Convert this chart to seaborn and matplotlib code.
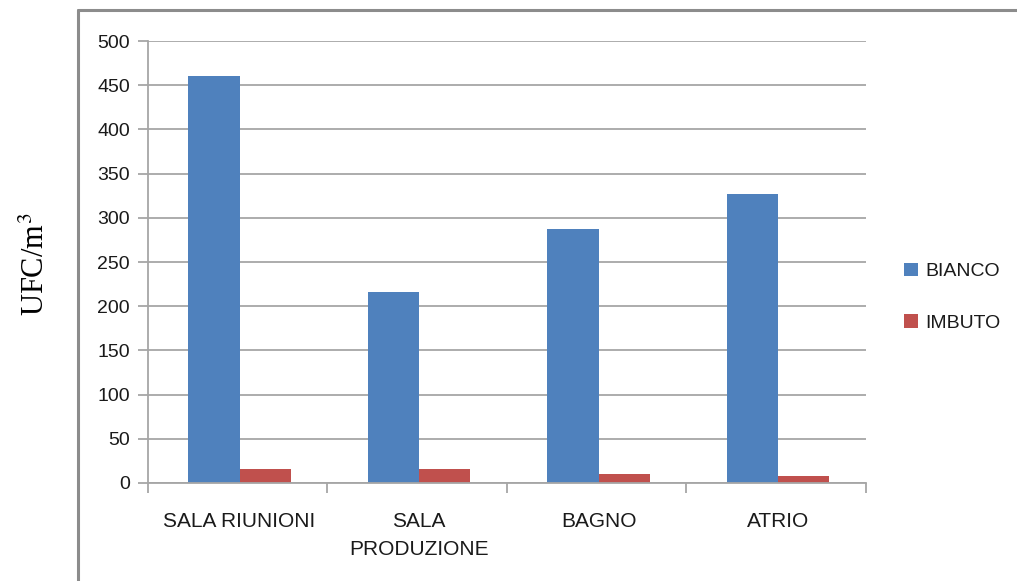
import matplotlib
matplotlib.use("Agg")
import matplotlib.pyplot as plt
from matplotlib.lines import Line2D
from matplotlib.patches import Patch
import pandas as pd
import seaborn as sns

# Sampling sites and colony counts per sampler
categories = ["SALA RIUNIONI", "SALA\nPRODUZIONE", "BAGNO", "ATRIO"]
series_names = ["BIANCO", "IMBUTO"]
bianco = [460, 216, 287, 327]
imbuto = [16, 16, 10, 8]
y_ticks = [0, 50, 100, 150, 200, 250, 300, 350, 400, 450, 500]

colors = {"BIANCO": "#4F81BD", "IMBUTO": "#C0504D"}

df = pd.DataFrame({
    "site": categories * 2,
    "series": [series_names[0]] * len(categories) + [series_names[1]] * len(categories),
    "value": bianco + imbuto,
})

sns.set_theme(style="white")
plt.rcParams["font.family"] = ["Liberation Sans", "DejaVu Sans"]

fig = plt.figure(figsize=(10.17, 5.81), dpi=100)
ax = fig.add_axes([0.1455, 0.1687, 0.706, 0.7607])

sns.barplot(data=df, x="site", y="value", hue="series", order=categories,
            hue_order=series_names, palette=colors, width=0.57,
            saturation=1, ax=ax, legend=False, edgecolor="none")

grid_c = "#A6A6A6"
ax.set_ylim(0, 500)
ax.set_xlim(-0.51, len(categories) - 0.51)
ax.set_yticks(y_ticks)
ax.yaxis.grid(True, color=grid_c, linewidth=1.3)
ax.set_axisbelow(True)
for s in ["top", "right"]:
    ax.spines[s].set_visible(False)
for s in ["left", "bottom"]:
    ax.spines[s].set_color(grid_c)
    ax.spines[s].set_linewidth(1.3)

ax.tick_params(axis="y", which="major", length=7, width=1.3, color=grid_c,
               labelsize=14, labelcolor="#1a1a1a", pad=6, left=True)
ax.set_xticks(range(len(categories)))
ax.set_xticklabels(categories, fontsize=15, color="#1a1a1a", linespacing=1.6)
ax.tick_params(axis="x", which="major", length=0, pad=21)
ax.set_xticks([i - 0.51 for i in range(len(categories) + 1)], minor=True)
ax.tick_params(axis="x", which="minor", length=7, width=1.3, color=grid_c, bottom=True)
for lbl in ax.get_xticklabels():
    lbl.set_verticalalignment("top")

ax.set_xlabel("")
ax.set_ylabel("")
fig.text(0.036, 0.545, r"UFC/m$^3$", rotation=90, ha="center", va="center",
         fontsize=22, family="Liberation Serif", color="black",
         math_fontfamily="stix")

handles = [Patch(facecolor=colors[n], edgecolor="none") for n in series_names]
fig.legend(handles, series_names, loc="center left", bbox_to_anchor=(0.872, 0.488),
           frameon=False, fontsize=14, handlelength=0.68, handleheight=0.68,
           handletextpad=0.4, labelspacing=1.75, labelcolor="#1a1a1a")

# Outer chart frame
frame_c = "#8C8C8C"
fx = 77.5 / 1017
fy = 1 - 9.5 / 581
fig.add_artist(Line2D([fx, fx], [0, fy], color=frame_c, linewidth=2.2,
                      transform=fig.transFigure))
fig.add_artist(Line2D([fx, 1], [fy, fy], color=frame_c, linewidth=2.2,
                      transform=fig.transFigure))

fig.savefig("out.png", dpi=100, facecolor="white")
